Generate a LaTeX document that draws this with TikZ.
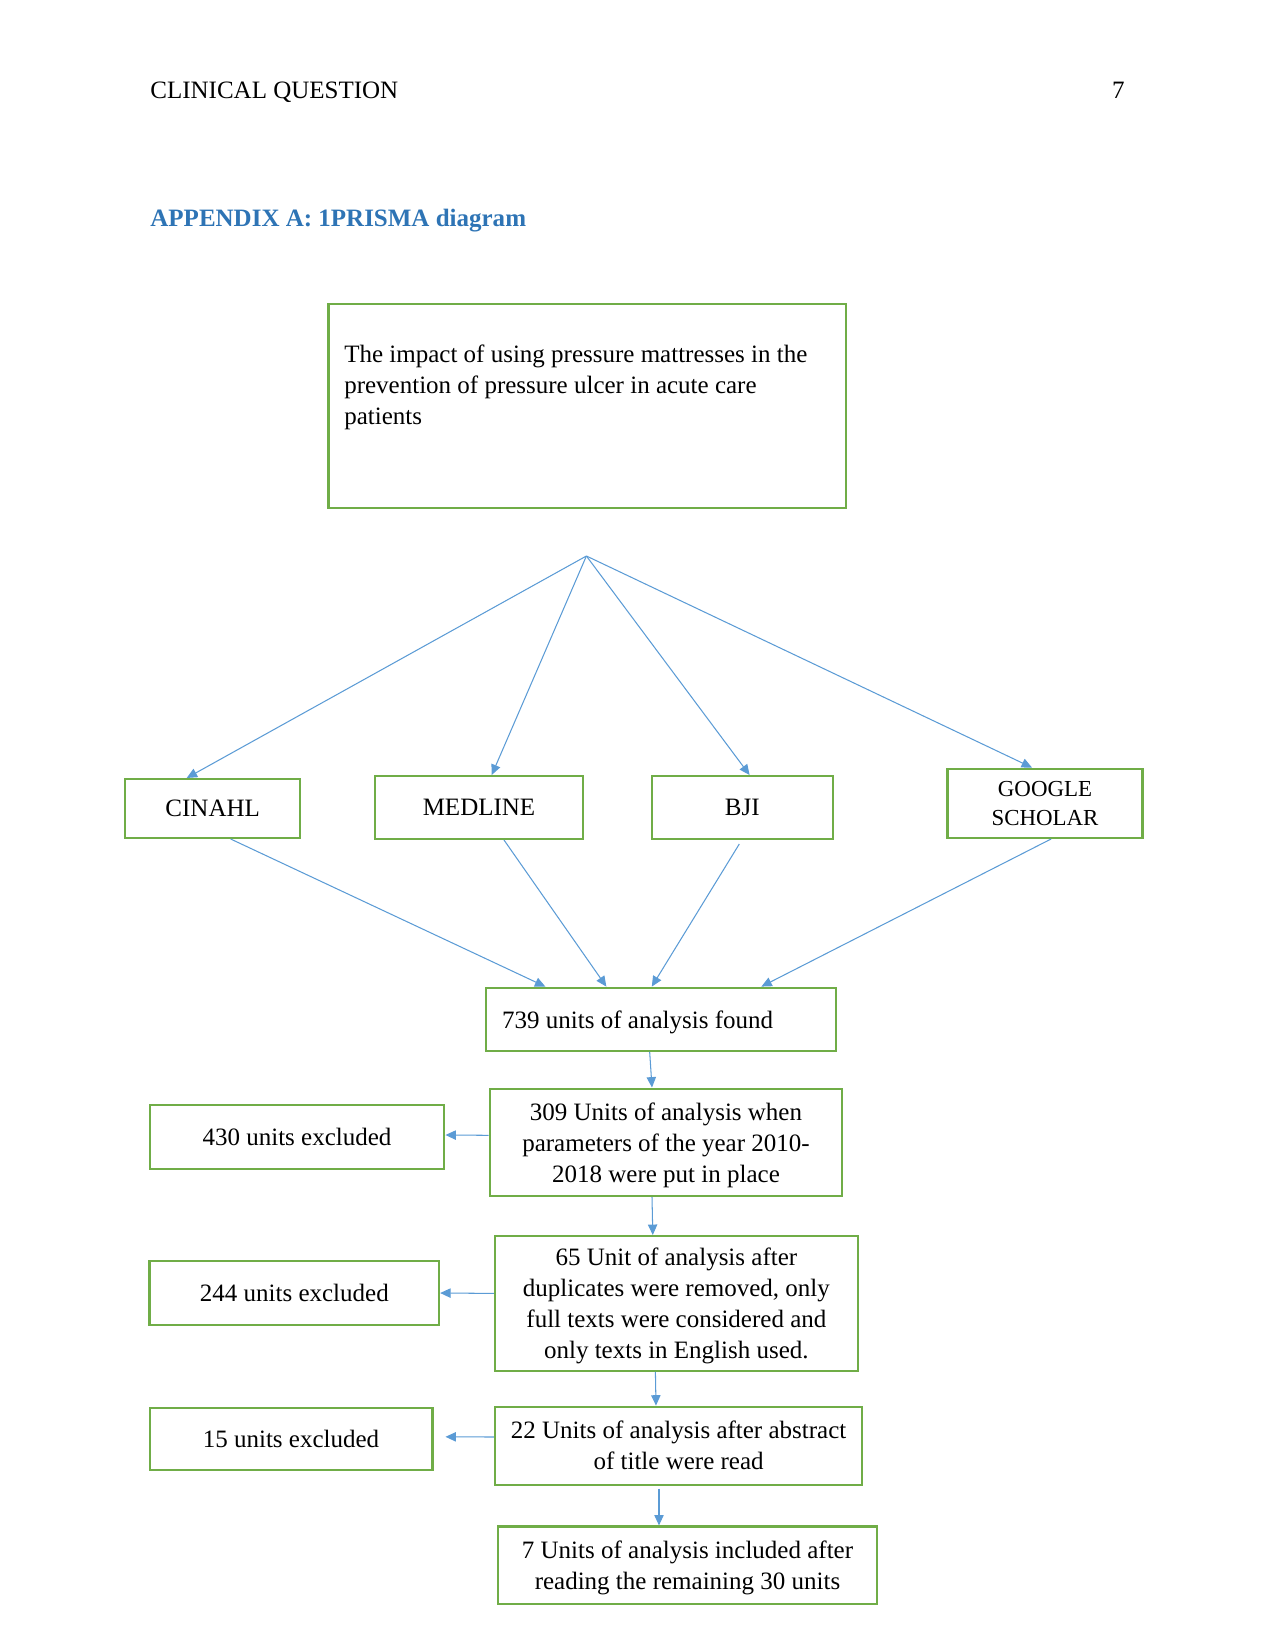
\documentclass[tikz,border=0pt]{standalone}
\usepackage{fontspec}
\setmainfont{Liberation Serif}
\usetikzlibrary{arrows.meta,calc}
\definecolor{boxgreen}{RGB}{112,173,71}
\definecolor{linkblue}{RGB}{91,155,213}
\definecolor{headblue}{RGB}{46,116,181}

\begin{document}
\begin{tikzpicture}[x=0.48pt,y=-0.48pt,
    every node/.style={font=\fontsize{12}{14.9}\selectfont},
    solidnode/.style={rectangle, draw=boxgreen, line width=1pt, inner sep=0pt, align=center, text depth=0pt},
    dims/.style 2 args={minimum width=#1, minimum height=#2}
    ]
    \tikzset{edge/.style={draw=linkblue, line width=0.5pt, -{Triangle[length=5pt,width=4.5pt]}}}
    \useasboundingbox (0,0) rectangle (1275,1651);
    %
    %page text
    %
    \node[anchor=base west, inner sep=0pt] (runhead) at (150,99) {CLINICAL QUESTION};
    \node[anchor=base east, inner sep=0pt] (pageno) at (1125,99) {7};
    \node[anchor=base west, inner sep=0pt, text=headblue, font=\fontsize{12}{14.9}\selectfont\bfseries] (appendix) at (150,227) {APPENDIX A: 1PRISMA diagram};
    %
    %vertices
    %
    \node[solidnode, text depth=, inner xsep=7.4pt, dims={248.2pt}{97.9pt}] (question) at (587,406.4)
        {\begin{minipage}[c][97.9pt][t]{233pt}\raggedright\vspace*{19.5pt}%
        The impact of using pressure mattresses in the\\
        prevention of pressure ulcer in acute care\\
        patients\end{minipage}};
    \coordinate (apex) at (586.4,556);
    \node[solidnode, dims={84pt}{28.3pt}] (cinahl) at (212.7,808.5) {CINAHL};
    \node[solidnode, dims={100.1pt}{30.2pt}] (medline) at (479,807.5) {MEDLINE};
    \node[solidnode, dims={86.9pt}{30.2pt}] (bji) at (742.3,807.5) {BJI};
    \node[solidnode, dims={93.6pt}{33.3pt}, font=\fontsize{11}{13.6}\selectfont] (google) at (1045,803.3) {GOOGLE\\SCHOLAR};
    \node[solidnode, dims={167.8pt}{30.3pt}, align=flush left, inner xsep=7.6pt, text width=152.6pt] (u739) at (661.2,1019.2) {739 units of analysis found};
    \node[solidnode, dims={169.3pt}{51.6pt}] (u309) at (666,1142.3) {309 Units of analysis when\\parameters of the year 2010-\\2018 were put in place};
    \node[solidnode, dims={141.5pt}{30.3pt}] (x430) at (297,1137) {430 units excluded};
    \node[solidnode, dims={174.3pt}{64.7pt}] (u65) at (676.4,1303.4) {65 Unit of analysis after\\duplicates were removed, only\\full texts were considered and\\only texts in English used.};
    \node[solidnode, dims={139pt}{30.3pt}] (x244) at (294.3,1293) {244 units excluded};
    \node[solidnode, dims={176.4pt}{37.4pt}] (u22) at (678.6,1445.6) {22 Units of analysis after abstract\\of title were read};
    \node[solidnode, dims={135.8pt}{29.8pt}] (x15) at (291,1438.8) {15 units excluded};
    \node[solidnode, dims={181.9pt}{37pt}] (u7) at (687.5,1565) {7 Units of analysis included after\\reading the remaining 30 units};
    %
    %edges
    %
    \draw[edge] (apex) to ($(cinahl.north)+(-26,0)$);
    \draw[edge] (apex) to ($(medline.north)+(12.7,0)$);
    \draw[edge] (apex) to ($(bji.north)+(7.3,0)$);
    \draw[edge] (apex) to ($(google.north)+(-13,0)$);
    \draw[edge] ($(cinahl.south)+(18,0)$) to ($(u739.north west)+(60,0)$);
    \draw[edge] ($(medline.south)+(25,0)$) to ($(u739.north west)+(121,0)$);
    \draw[edge] ($(bji.south)+(-3,4)$) to ($(u739.north west)+(166.4,0)$);
    \draw[edge] ($(google.south)+(6,0)$) to ($(u739.north west)+(276,0)$);
    \draw[edge] ($(u739.south west)+(164.3,0)$) to ($(u309.north)+(-14,0)$);
    \draw[edge] ($(u309.west)+(0,-7)$) to ($(x430.east)+(0,-2)$);
    \draw[edge] ($(u309.south)+(-14,0)$) to ($(u65.north)+(-23.6,0)$);
    \draw[edge] ($(u65.west)+(0,-10)$) to (x244.east);
    \draw[edge] ($(u65.south)+(-21,0)$) to ($(u22.north)+(-22.6,0)$);
    \draw[edge] ($(u22.west)+(0,-8.6)$) to ($(x15.east)+(12,-2)$);
    \draw[edge] ($(u22.south)+(-19.6,3)$) to ($(u7.north)+(-28.5,0)$);
\end{tikzpicture}
\end{document}
